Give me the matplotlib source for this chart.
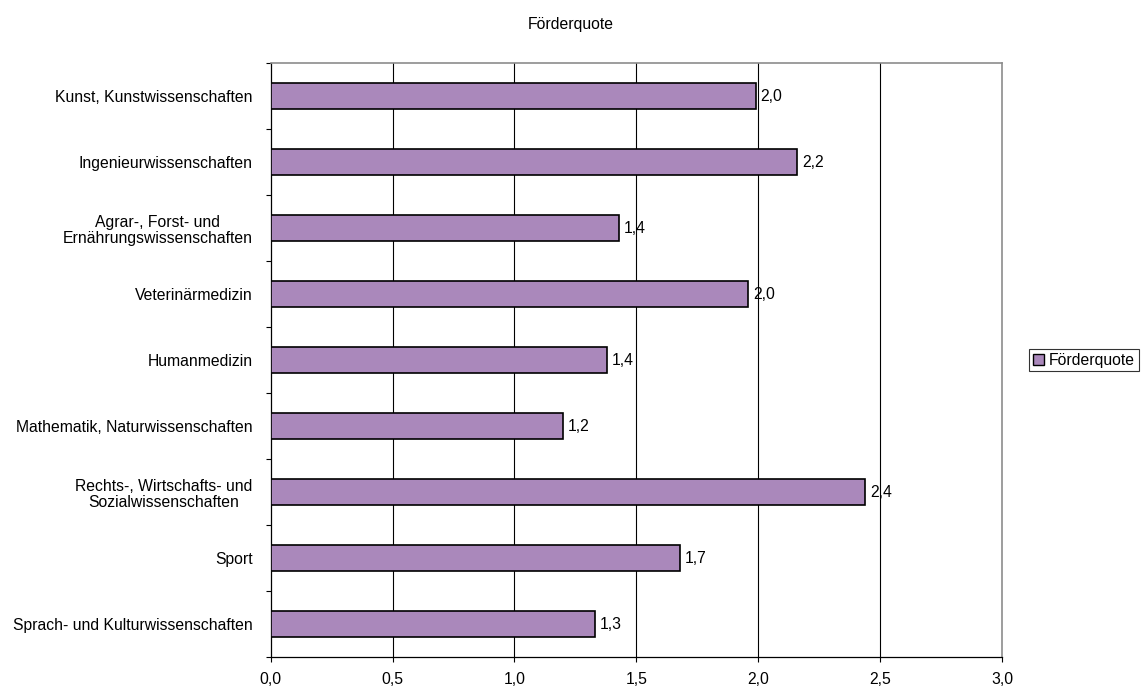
import matplotlib
matplotlib.use("Agg")
import matplotlib.pyplot as plt
from matplotlib.patches import Patch
import numpy as np

plt.rcParams['font.family'] = ['Liberation Sans', 'DejaVu Sans']

# Fachgebiete (top to bottom) and their Förderquote
categories = [
    "Kunst, Kunstwissenschaften",
    "Ingenieurwissenschaften",
    "Agrar-, Forst- und\nErnährungswissenschaften",
    "Veterinärmedizin",
    "Humanmedizin",
    "Mathematik, Naturwissenschaften",
    "Rechts-, Wirtschafts- und\nSozialwissenschaften",
    "Sport",
    "Sprach- und Kulturwissenschaften",
]
values = [1.99, 2.16, 1.43, 1.96, 1.38, 1.20, 2.44, 1.68, 1.33]
series_name = "Förderquote"
x_ticks = [0.0, 0.5, 1.0, 1.5, 2.0, 2.5, 3.0]

bar_color = "#AA88BB"
fs = 11.3

fig = plt.figure(figsize=(11.42, 6.89), dpi=100)
ax = fig.add_axes([0.2370, 0.0464, 0.6404, 0.8617])

y = np.arange(len(categories))
bars = ax.barh(y, values, height=0.40, color=bar_color, edgecolor="black",
               linewidth=1.2, zorder=3)

for yi, v in zip(y, values):
    ax.annotate(f"{v:.1f}".replace(".", ","), xy=(v, yi), xytext=(3.5, 0),
                textcoords="offset points", ha="left", va="center",
                fontsize=fs, zorder=4)

ax.set_xlim(0, 3.0)
ax.set_ylim(len(categories) - 0.5, -0.5)

ax.set_xticks(x_ticks)
ax.set_xticklabels([f"{t:.1f}".replace(".", ",") for t in x_ticks], fontsize=fs)
ax.tick_params(axis="x", direction="out", length=3.6, width=0.8, pad=7.2,
               color="black")

ax.set_yticks(y)
ax.set_yticklabels(categories, fontsize=fs, multialignment="center",
                   linespacing=1.1)
ax.set_yticks(np.arange(len(categories) + 1) - 0.5, minor=True)
ax.tick_params(axis="y", which="major", length=0, pad=13)
ax.tick_params(axis="y", which="minor", direction="out", length=3.6,
               width=0.8, color="black")

# vertical gridlines
for t in x_ticks[1:-1]:
    ax.axvline(t, color="black", linewidth=0.8, zorder=1)

for side in ("left", "bottom"):
    ax.spines[side].set_color("black")
    ax.spines[side].set_linewidth(0.9)
for side in ("top", "right"):
    ax.spines[side].set_color("#8C8C8C")
    ax.spines[side].set_linewidth(1.2)

fig.text(571 / 1142, 1 - 24 / 689, series_name, ha="center", va="center",
         fontsize=fs)

handle = Patch(facecolor=bar_color, edgecolor="black", linewidth=1.0)
leg = fig.legend([handle], [series_name], loc="center left",
                 bbox_to_anchor=(1029 / 1142, 1 - 360 / 689),
                 fontsize=fs, frameon=True, fancybox=False, shadow=False,
                 borderpad=0.25, borderaxespad=0, handlelength=0.7,
                 handleheight=0.7, handletextpad=0.3)
leg.get_frame().set_edgecolor("black")
leg.get_frame().set_linewidth(0.8)

fig.savefig("out.png", dpi=100, facecolor="white")
